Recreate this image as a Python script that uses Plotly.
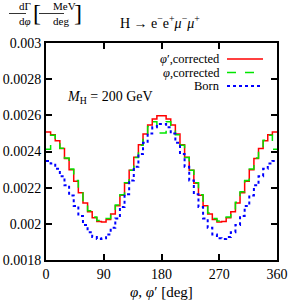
import numpy as np
import plotly.graph_objects as go

# bin width 7.2 deg, 50 bins from 0 to 360
phi_min, phi_max, n_bins = 0, 360, 50

red_vals = [0.002508, 0.002492, 0.002460, 0.002416, 0.002361, 0.002299, 0.002235, 0.002172,
            0.002115, 0.002067, 0.002033, 0.002013, 0.002010, 0.002024, 0.002055, 0.002100,
            0.002158, 0.002225, 0.002296, 0.002368, 0.002437, 0.002497, 0.002546, 0.002580,
            0.002598, 0.002598, 0.002580, 0.002546, 0.002497, 0.002437, 0.002368, 0.002296,
            0.002225, 0.002158, 0.002100, 0.002055, 0.002024, 0.002010, 0.002013, 0.002033,
            0.002067, 0.002115, 0.002172, 0.002235, 0.002299, 0.002361, 0.002416, 0.002460,
            0.002492, 0.002508]

green_vals = [0.002412, 0.002490, 0.002462, 0.002418, 0.002364, 0.002303, 0.002240, 0.002177,
              0.002120, 0.002072, 0.002038, 0.002019, 0.002016, 0.002030, 0.002060, 0.002104,
              0.002161, 0.002227, 0.002297, 0.002367, 0.002434, 0.002492, 0.002538, 0.002565,
              0.002502, 0.002502, 0.002565, 0.002538, 0.002492, 0.002434, 0.002367, 0.002297,
              0.002227, 0.002161, 0.002104, 0.002060, 0.002030, 0.002016, 0.002019, 0.002038,
              0.002072, 0.002120, 0.002177, 0.002240, 0.002303, 0.002364, 0.002418, 0.002462,
              0.002490, 0.002412]

born_vals = [0.002348, 0.002333, 0.002304, 0.002263, 0.002213, 0.002157, 0.002099, 0.002044,
             0.001994, 0.001954, 0.001927, 0.001916, 0.001920, 0.001941, 0.001978, 0.002030,
             0.002093, 0.002164, 0.002240, 0.002315, 0.002386, 0.002448, 0.002499, 0.002534,
             0.002552, 0.002552, 0.002534, 0.002499, 0.002448, 0.002386, 0.002315, 0.002240,
             0.002164, 0.002093, 0.002030, 0.001978, 0.001941, 0.001920, 0.001916, 0.001927,
             0.001954, 0.001994, 0.002044, 0.002099, 0.002157, 0.002213, 0.002263, 0.002304,
             0.002333, 0.002348]

x_ticks = [0, 90, 180, 270, 360]
y_ticks = [0.0018, 0.002, 0.0022, 0.0024, 0.0026, 0.0028, 0.003]
y_tick_labels = ["0.0018", "0.002", "0.0022", "0.0024", "0.0026", "0.0028", "0.003"]

series_names = ["φ′,corrected", "φ,corrected", "Born"]
series_colors = ["#ff0000", "#00e600", "#0000ff"]
series_dash = ["solid", "dash", "dot"]
series_width = [1.5, 1.5, 2]

edges = np.linspace(phi_min, phi_max, n_bins + 1)

FONT = "Liberation Serif"

fig = go.Figure()
for vals, name, col, dash, w in zip([red_vals, green_vals, born_vals], series_names,
                                    series_colors, series_dash, series_width):
    fig.add_trace(go.Scatter(
        x=edges, y=list(vals) + [vals[-1]], mode="lines", line_shape="hv",
        line=dict(color=col, dash=dash, width=w), name=name, showlegend=False))

axis_common = dict(ticks="inside", ticklen=6, tickwidth=1.5, tickcolor="black",
                   showline=True, linecolor="black", linewidth=2, mirror="allticks",
                   showgrid=False, zeroline=False, automargin=False,
                   tickfont=dict(size=14, family=FONT))

fig.update_layout(
    width=289, height=303,
    margin=dict(l=46, r=12, t=43, b=43, autoexpand=False),
    paper_bgcolor="white", plot_bgcolor="white",
    showlegend=False,
    font=dict(family=FONT, size=13, color="black"),
    xaxis=dict(range=[phi_min, phi_max], tickvals=x_ticks, ticktext=[str(t) for t in x_ticks],
               **axis_common),
    yaxis=dict(range=[0.0018, 0.003], tickvals=y_ticks, ticktext=y_tick_labels,
               **axis_common),
)

def px(x):
    return (x - 46) / 231.0

def py(y):
    return (260 - y) / 217.0

ann = []
# x-axis title
ann.append(dict(x=px(161), y=py(292), xref="paper", yref="paper", yanchor="middle",
                text="<i>φ</i>, <i>φ</i>′ [deg]", showarrow=False, font=dict(size=15)))
# title
ann.append(dict(xref="paper", yref="paper", x=px(160), y=py(22), yanchor="middle",
                text="H → e<sup>−</sup>e<sup>+</sup><i>μ</i><sup>−</sup><i>μ</i><sup>+</sup>",
                showarrow=False, font=dict(size=14)))
# y-axis label as a fraction
ann.append(dict(xref="paper", yref="paper", x=px(17), y=py(6.5), yanchor="middle",
                text="dΓ", showarrow=False, font=dict(size=11)))
ann.append(dict(xref="paper", yref="paper", x=px(17), y=py(20.5), yanchor="middle",
                text="d<i>φ</i>", showarrow=False, font=dict(size=11)))
ann.append(dict(xref="paper", yref="paper", x=px(51), y=py(6.5), yanchor="middle",
                text="MeV", showarrow=False, font=dict(size=11)))
ann.append(dict(xref="paper", yref="paper", x=px(51), y=py(20.5), yanchor="middle",
                text="deg", showarrow=False, font=dict(size=11)))
ann.append(dict(xref="paper", yref="paper", x=px(31), y=py(13), yanchor="middle",
                text="[", showarrow=False, font=dict(size=24)))
ann.append(dict(xref="paper", yref="paper", x=px(72), y=py(13), yanchor="middle",
                text="]", showarrow=False, font=dict(size=24)))
# M_H annotation
ann.append(dict(xref="paper", yref="paper", x=px(65), y=py(97), xanchor="left", yanchor="middle",
                text="<i>M</i><sub>H</sub> = 200 GeV", showarrow=False, font=dict(size=14)))
# legend (text right-aligned, sample on the right)
leg_px = [59, 72.5, 86]
for name, yy in zip(series_names, leg_px):
    txt = name.replace("φ", "<i>φ</i>")
    ann.append(dict(xref="paper", yref="paper", x=px(221), y=py(yy), xanchor="right",
                    yanchor="middle", text=txt, showarrow=False, font=dict(size=12.5),
                    borderpad=0))
fig.update_layout(annotations=ann)

shapes = [
    dict(type="line", xref="paper", yref="paper", x0=px(9), x1=px(26), y0=py(13.5), y1=py(13.5),
         line=dict(color="black", width=0.8)),
    dict(type="line", xref="paper", yref="paper", x0=px(39), x1=px(64), y0=py(13.5), y1=py(13.5),
         line=dict(color="black", width=0.8)),
]
for col, dash, w, yy in zip(series_colors, series_dash, series_width, leg_px):
    shapes.append(dict(type="line", xref="paper", yref="paper", x0=px(227), x1=px(263),
                       y0=py(yy), y1=py(yy), line=dict(color=col, dash=dash, width=w)))
fig.update_layout(shapes=shapes)

fig.write_html("out.html", config={"displayModeBar": False},
               post_script="document.body.style.margin='0px';document.body.style.padding='0px';")
